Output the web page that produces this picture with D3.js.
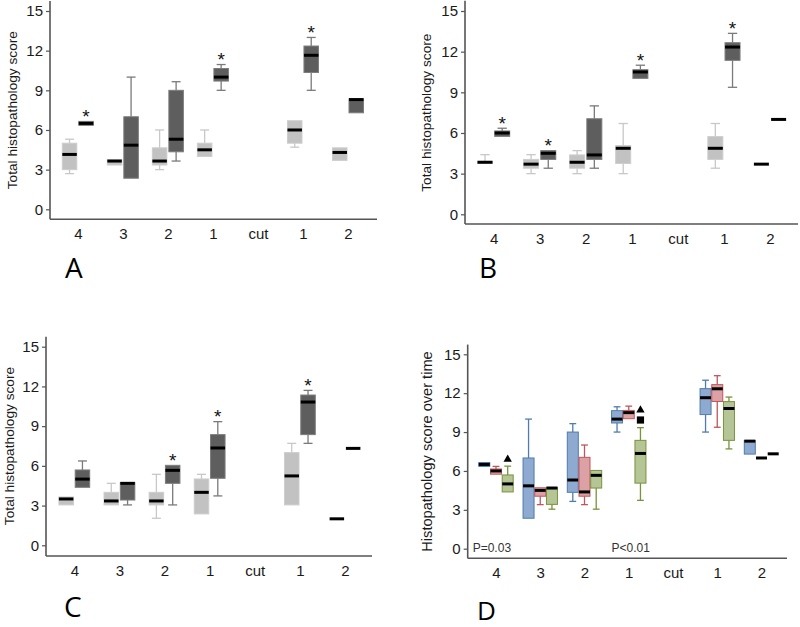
<!DOCTYPE html>
<html><head><meta charset="utf-8">
<script src="https://cdn.jsdelivr.net/npm/d3@7"></script>
<style>body{margin:0;background:#fff} svg{display:block;background:#fff}</style>
</head><body>
<svg id="chart" width="800" height="627"></svg>
<script>
// ---------- DATA ----------
const categories = ["4", "3", "2", "1", "cut", "1", "2"];
const yTicks = [0, 3, 6, 9, 12, 15];
// five-number summaries per group: [low whisker, Q1, median, Q3, high whisker]; null = no data ("cut")
const aLight = [[2.7,3.0,4.15,5.0,5.3],[3.35,3.35,3.65,3.75,3.75],[3.0,3.35,3.65,4.65,6.0],[4.0,4.0,4.5,5.0,6.0],null,[4.7,5.0,6.0,6.7,6.7],[3.7,3.7,4.3,4.65,4.65]];
const aDark  = [[6.35,6.35,6.5,6.65,6.65],[2.35,2.35,4.85,7.0,10.0],[3.65,4.35,5.3,9.0,9.65],[9.0,9.7,10.0,10.65,10.95],null,[9.0,10.35,11.65,12.35,13.0],[7.3,7.3,8.3,8.35,8.35]];
const bLight = [[3.75,3.75,3.84,3.9,4.4],[3.0,3.4,3.7,4.05,4.4],[3.0,3.4,3.84,4.38,4.7],[3.0,3.75,4.87,5.07,6.7],null,[3.4,4.05,4.87,5.73,6.7],[3.7,3.7,3.7,3.7,3.7]];
const bDark  = [[5.75,5.75,6.0,6.15,6.35],[3.4,4.05,4.5,4.7,4.7],[3.4,4.05,4.38,7.05,8.0],[10.03,10.03,10.5,10.67,11.0],null,[9.37,11.36,12.34,12.66,13.35],[7.0,7.0,7.0,7.0,7.0]];
const cLight = [[3.05,3.05,3.5,3.65,3.65],[3.05,3.05,3.35,4.0,4.68],[2.04,3.05,3.35,4.0,5.36],[2.37,2.37,4.0,5.01,5.36],null,[3.05,3.05,5.24,7.0,7.7],[2.0,2.0,2.0,2.0,2.0]];
const cDark  = [[4.38,4.38,5.0,5.69,6.37],[3.05,3.42,4.68,4.73,4.73],[3.05,4.68,5.66,6.04,6.04],[3.73,5.06,7.35,8.36,9.34],null,[7.7,8.36,10.82,11.35,11.7],[7.32,7.32,7.32,7.32,7.32]];
// significance markers (group indices of the dark series)
const aStars = [0, 3, 5];
const bStars = [0, 1, 3, 5];
const cStars = [2, 3, 5];
// panel D: [series index, group index, value]
const dTriangles = [[2, 0, 6.9], [2, 3, 10.7]];
const dSquares = [[2, 3, 9.93]];
const dPLabels = ["P=0.03", "P<0.01"];
const dPGroups = [0, 3];
const titleABC = "Total histopathology score";
const titleD = "Histopathology score over time";
const letters = ["A", "B", "C", "D"];

// ---------- DRAW ----------
const svg = d3.select("#chart");
const FONT = "'Liberation Sans', Arial, sans-serif";
const LIGHT = {fill: "#c2c2c2", stroke: "#cdcdcd", whisker: "#c8c8c8"};
const DARK  = {fill: "#5e5e5e", stroke: "#7c7c7c", whisker: "#7a7a7a"};
const BLUE  = {fill: "#8eaad0", stroke: "#4f7cac", whisker: "#4f7cac"};
const RED   = {fill: "#dba1a4", stroke: "#c0565b", whisker: "#c0565b"};
const GREEN = {fill: "#b6c595", stroke: "#77933c", whisker: "#77933c"};

const panels = [
  {letter: letters[0], series: [aLight, aDark], styles: [LIGHT, DARK], stars: aStars, title: titleABC, tfs: 13.7,
   x0: 50, x1: 377, yZero: 209.3, y15: 11, axisY: 219.3, c0: 77.8, c6: 348, step: 16.5, bw: 14.5,
   titleX: 16.5, lx: 65, ly: 278, lfs: 28},
  {letter: letters[1], series: [bLight, bDark], styles: [LIGHT, DARK], stars: bStars, title: titleABC, tfs: 13.7,
   x0: 465, x1: 798, yZero: 214.3, y15: 11, axisY: 224, c0: 493.6, c6: 770, step: 17.2, bw: 15,
   titleX: 431, lx: 479, ly: 278, lfs: 28},
  {letter: letters[2], series: [cLight, cDark], styles: [LIGHT, DARK], stars: cStars, title: titleABC, tfs: 13.7,
   x0: 46, x1: 372, yZero: 545.3, y15: 346.7, axisY: 556, c0: 74.3, c6: 345, step: 16.3, bw: 14.5,
   titleX: 14, lx: 64, ly: 617, lfs: 28},
  {letter: letters[3], series: [aDark, bDark, cDark], styles: [BLUE, RED, GREEN], stars: [], title: titleD, tfs: 14.6,
   x0: 467.7, x1: 787, yZero: 548.7, y15: 354.3, axisY: 558.3, c0: 496, c6: 761.5, step: 11.7, bw: 11,
   titleX: 432, lx: 477, ly: 620, lfs: 26, d: true}
];

panels.forEach(cfg => {
  const g = svg.append("g");
  const y = d3.scaleLinear().domain([0, 15]).range([cfg.yZero, cfg.y15]);
  const x = d3.scalePoint().domain(d3.range(categories.length)).range([cfg.c0, cfg.c6]);

  // y axis
  const ya = g.append("g").attr("transform", `translate(${cfg.x0},0)`)
    .call(d3.axisLeft(y).tickValues(yTicks).tickSize(4).tickSizeOuter(0).tickPadding(3));
  ya.select(".domain").remove();
  ya.selectAll("line").attr("stroke", "#555").attr("stroke-width", 1.2);
  ya.selectAll("text").attr("font-size", 15).attr("font-family", FONT).attr("fill", "#1a1a1a");
  g.append("line").attr("x1", cfg.x0).attr("x2", cfg.x0).attr("y1", y(15.75)).attr("y2", cfg.axisY)
    .attr("stroke", "#555").attr("stroke-width", 1.6);
  // x axis
  const xa = g.append("g").attr("transform", `translate(0,${cfg.axisY})`)
    .call(d3.axisBottom(x).tickSize(0).tickPadding(9).tickFormat(i => categories[i]));
  xa.select(".domain").remove();
  xa.selectAll("text").attr("font-size", 15).attr("font-family", FONT).attr("fill", "#1a1a1a");
  g.append("line").attr("x1", cfg.x0).attr("x2", cfg.x1).attr("y1", cfg.axisY).attr("y2", cfg.axisY)
    .attr("stroke", "#555").attr("stroke-width", 1.6);

  // y title
  const ymid = (y(0) + y(15)) / 2;
  g.append("text").attr("transform", `translate(${cfg.titleX},${ymid}) rotate(-90)`)
    .attr("text-anchor", "middle").attr("font-size", cfg.tfs).attr("font-family", FONT)
    .attr("fill", "#1a1a1a").text(cfg.title);

  // boxes
  const n = cfg.series.length;
  const bw = cfg.bw, cap = bw * 0.62;
  cfg.series.forEach((ser, si) => {
    const st = cfg.styles[si];
    const off = (si - (n - 1) / 2) * cfg.step;
    ser.forEach((d, gi) => {
      if (!d) return;
      const [lo, q1, med, q3, hi] = d;
      const cx = x(gi) + off;
      const bg = g.append("g");
      if (hi > q3) {
        bg.append("line").attr("x1", cx).attr("x2", cx).attr("y1", y(hi)).attr("y2", y(q3)).attr("stroke", st.whisker).attr("stroke-width", 1.3);
        bg.append("line").attr("x1", cx - cap / 2).attr("x2", cx + cap / 2).attr("y1", y(hi)).attr("y2", y(hi)).attr("stroke", st.whisker).attr("stroke-width", 1.3);
      }
      if (lo < q1) {
        bg.append("line").attr("x1", cx).attr("x2", cx).attr("y1", y(q1)).attr("y2", y(lo)).attr("stroke", st.whisker).attr("stroke-width", 1.3);
        bg.append("line").attr("x1", cx - cap / 2).attr("x2", cx + cap / 2).attr("y1", y(lo)).attr("y2", y(lo)).attr("stroke", st.whisker).attr("stroke-width", 1.3);
      }
      if (q3 > q1) {
        bg.append("rect").attr("x", cx - bw / 2).attr("y", y(q3)).attr("width", bw).attr("height", y(q1) - y(q3))
          .attr("fill", st.fill).attr("stroke", st.stroke).attr("stroke-width", 1);
      }
      bg.append("line").attr("x1", cx - bw / 2).attr("x2", cx + bw / 2).attr("y1", y(med)).attr("y2", y(med))
        .attr("stroke", "#000").attr("stroke-width", 3);
    });
  });

  // stars above the dark series
  const darkOff = ((n - 1) - (n - 1) / 2) * cfg.step;
  cfg.stars.forEach(gi => {
    const d = cfg.series[n - 1][gi];
    const top = Math.max(d[3], d[4]);
    g.append("text").attr("x", x(gi) + darkOff).attr("y", y(top) - 8.5 + 10)
      .attr("text-anchor", "middle").attr("font-size", 19).attr("font-family", FONT)
      .attr("fill", "#111").text("*");
  });

  if (cfg.d) {
    dTriangles.forEach(([si, gi, v]) => {
      const off = (si - (n - 1) / 2) * cfg.step;
      g.append("path").attr("d", d3.symbol(d3.symbolTriangle, 30)())
        .attr("transform", `translate(${x(gi) + off},${y(v)})`).attr("fill", "#000");
    });
    dSquares.forEach(([si, gi, v]) => {
      const off = (si - (n - 1) / 2) * cfg.step;
      g.append("path").attr("d", d3.symbol(d3.symbolSquare, 52)())
        .attr("transform", `translate(${x(gi) + off},${y(v)})`).attr("fill", "#000");
    });
    dPLabels.forEach((t, i) => {
      const gi = dPGroups[i];
      g.append("text").attr("x", i === 0 ? cfg.x0 + 5 : x(gi) + 2)
        .attr("text-anchor", i === 0 ? "start" : "middle")
        .attr("y", cfg.yZero + 3).attr("font-size", 12).attr("font-family", FONT)
        .attr("fill", "#333").text(t);
    });
  }

  // panel letter
  g.append("text").attr("x", cfg.lx).attr("y", cfg.ly).attr("font-size", cfg.lfs)
    .attr("font-family", "'Open Sans', 'Noto Sans', sans-serif").attr("fill", "#000").text(cfg.letter);
});
</script>
</body></html>
